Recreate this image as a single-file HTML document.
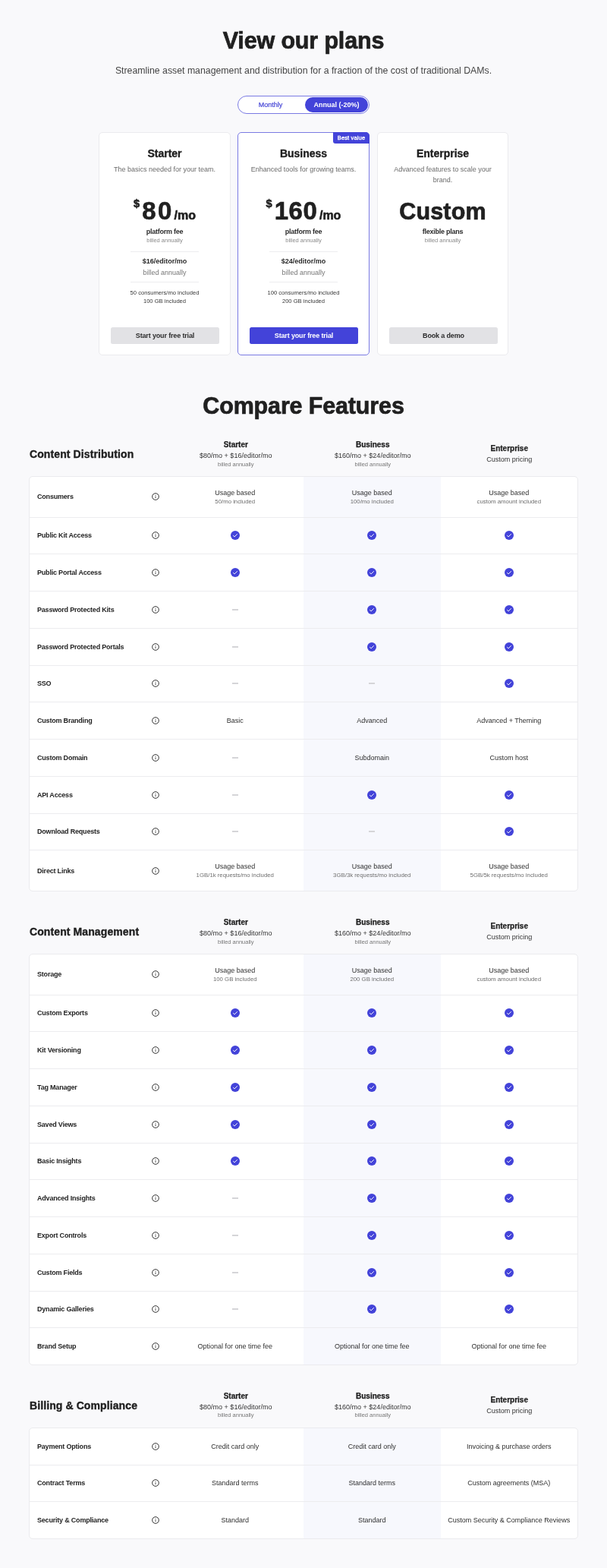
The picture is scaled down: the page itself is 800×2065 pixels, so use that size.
<!DOCTYPE html><html><head><meta charset="utf-8"><title>View our plans</title><style>

*{box-sizing:border-box;margin:0;padding:0}
html,body{width:800px;height:2065px;background:#f9f9fb;overflow:hidden}
body{position:relative;font-family:"Liberation Sans",sans-serif;color:#2b2b2b;-webkit-font-smoothing:antialiased}
.abs{position:absolute}
h1{position:absolute;left:0;width:800px;text-align:center;font-size:30.5px;font-weight:700;color:#202020;line-height:1;letter-spacing:-0.15px;-webkit-text-stroke:0.7px #202020}
.sub{position:absolute;left:0;width:800px;text-align:center;font-size:12.3px;color:#454545;line-height:1}
.toggle{position:absolute;left:313px;top:126px;width:174px;height:24px;border:1px solid #7a7ae3;border-radius:12px;background:#fff}
.toggle .m{position:absolute;left:-1px;width:87px;top:0;height:22px;line-height:22px;text-align:center;font-size:9px;color:#4646d6;font-weight:400;-webkit-text-stroke:0.2px #4646d6}
.toggle .a{position:absolute;left:88px;top:1px;width:83px;height:20px;border-radius:10px;background:#4343d9;color:#fff;font-size:9px;font-weight:700;line-height:20px;text-align:center}
.card{position:absolute;top:174px;width:174px;height:294px;background:#fff;border:1px solid #ebebee;border-radius:5px;text-align:center}
.card.biz{border-color:#7a7ae3}
.badge{position:absolute;right:-1px;top:-1px;width:48px;height:15px;background:#4343d9;color:#fff;font-size:7.5px;font-weight:400;-webkit-text-stroke:0.3px #fff;letter-spacing:0.15px;line-height:15px;text-align:center;border-radius:0 5px 0 3px}
.card .t{position:absolute;left:0;width:100%;top:19.5px;font-size:14px;font-weight:700;color:#202020;line-height:1;-webkit-text-stroke:0.35px #202020}
.card .d{position:absolute;left:14px;right:14px;top:41.25px;font-size:9px;color:#6a6a6a;line-height:14.1px}
.price{position:absolute;left:0;width:100%;top:85.5px;height:34px;white-space:nowrap;color:#202020;font-weight:700;-webkit-text-stroke:0.6px #202020}
.price .cur{font-size:14.5px;vertical-align:top;position:relative;top:-1px;margin-right:3px}
.price .num{font-size:33px;line-height:34px}
.price .per{font-size:16px;margin-left:3px}
.pf{position:absolute;left:0;width:100%;top:125.5px;font-size:9px;font-weight:700;color:#2b2b2b;line-height:1;letter-spacing:-0.25px}
.ba{position:absolute;left:0;width:100%;top:137.5px;font-size:7.5px;color:#8a8a8a;line-height:1}
.hr{position:absolute;left:41px;width:90px;height:1px;background:#ececef}
.ed{position:absolute;left:0;width:100%;top:165px;font-size:9px;font-weight:700;color:#2b2b2b;line-height:1}
.eb{position:absolute;left:0;width:100%;top:179.5px;font-size:9px;color:#777;line-height:1}
.inc{position:absolute;left:0;width:100%;top:204.5px;font-size:7.6px;color:#363636;line-height:11.5px}
.btn{position:absolute;left:15px;width:143px;top:256px;height:22px;border-radius:2.5px;background:#e2e2e5;color:#2b2b2b;font-size:9px;font-weight:700;line-height:22px;text-align:center;letter-spacing:-0.15px}
.biz .btn{background:#4343d9;color:#fff}
.cust{position:absolute;left:0;width:100%;top:87.5px;font-size:30.5px;font-weight:700;color:#202020;line-height:1;letter-spacing:0.15px;-webkit-text-stroke:0.7px #202020}
.sec{position:absolute;left:38px;width:724px}
.sh{position:absolute;left:1px;top:-36px;font-size:14px;font-weight:700;color:#202020;letter-spacing:0.1px;line-height:1;white-space:nowrap;-webkit-text-stroke:0.35px #202020}
.ch{position:absolute;width:180.5px;text-align:center;line-height:1;white-space:nowrap}
.ch .n{font-size:10px;font-weight:700;color:#202020;-webkit-text-stroke:0.25px #202020}
.ch .p{font-size:9px;color:#333;margin-top:5px}
.ch .b{font-size:7.5px;color:#777;margin-top:2.5px}
.tbl{position:absolute;left:0;top:0;width:724px;background:#fff;border:1px solid #ebebee;border-radius:5px;overflow:hidden}
.shade{position:absolute;left:361px;width:180.5px;top:0;bottom:0;background:#f7f8fd}
.row{position:relative;height:48.75px;border-top:1px solid #ececef;display:flex;align-items:center}
.row.first{border-top:none}
.row.tall{height:53.5px}
.row.first{height:47.75px}
.row.tall.first{height:52.5px}
.fl{position:absolute;left:10px;font-size:9px;font-weight:700;color:#232323;white-space:nowrap;letter-spacing:-0.2px}
.inf{position:absolute;left:161px;top:50%;margin-top:-5px}
.c{position:absolute;width:180.5px;text-align:center;top:0;bottom:0;padding-top:1px;display:flex;flex-direction:column;justify-content:center;line-height:1;font-size:9px}
.c.ic{padding-top:0}
.c1{left:180.5px}.c2{left:361px}.c3{left:541.5px}
.ck{display:block;margin:0 auto}
.dash{display:block;margin:0 auto;width:8px;height:2px;background:#d5d5d8}
.ub{font-size:9px;color:#303030}
.us{font-size:7.8px;color:#6e6e6e;margin-top:3.2px}
.tx{display:block;font-size:9px;color:#2e2e2e}

</style></head><body>
<h1 style="top:37.7px">View our plans</h1>
<div class="sub" style="top:86.5px">Streamline asset management and distribution for a fraction of the cost of traditional DAMs.</div>
<div class="toggle"><div class="m">Monthly</div><div class="a">Annual (-20%)</div></div>
<div class="card" style="left:130px">
<div class="t">Starter</div>
<div class="d">The basics needed for your team.</div>
<div class="price"><span class="cur">$</span><span class="num"><span style="letter-spacing:2.6px">8</span>0</span><span class="per">/mo</span></div>
<div class="pf">platform fee</div><div class="ba">billed annually</div>
<div class="hr" style="top:156.25px"></div>
<div class="ed">$16/editor/mo</div><div class="eb">billed annually</div>
<div class="hr" style="top:195.5px"></div>
<div class="inc">50 consumers/mo included<br>100 GB included</div>
<div class="btn">Start your free trial</div>
</div>
<div class="card biz" style="left:313px">
<div class="badge">Best value</div>
<div class="t">Business</div>
<div class="d">Enhanced tools for growing teams.</div>
<div class="price"><span class="cur">$</span><span class="num" style="letter-spacing:0.6px;margin-right:-0.6px">160</span><span class="per">/mo</span></div>
<div class="pf">platform fee</div><div class="ba">billed annually</div>
<div class="hr" style="top:156.25px"></div>
<div class="ed">$24/editor/mo</div><div class="eb">billed annually</div>
<div class="hr" style="top:195.5px"></div>
<div class="inc">100 consumers/mo included<br>200 GB included</div>
<div class="btn">Start your free trial</div>
</div>
<div class="card" style="left:497px;width:173px">
<div class="t">Enterprise</div>
<div class="d">Advanced features to scale your brand.</div>
<div class="cust">Custom</div>
<div class="pf">flexible plans</div><div class="ba">billed annually</div>
<div class="btn">Book a demo</div>
</div>
<h1 style="top:519px">Compare Features</h1>
<div class="sec" style="top:627px">
<div class="sh">Content Distribution</div>
<div class="ch" style="left:182.5px;top:-46px"><div class="n">Starter</div><div class="p">$80/mo + $16/editor/mo</div><div class="b">billed annually</div></div>
<div class="ch" style="left:363.0px;top:-46px"><div class="n">Business</div><div class="p">$160/mo + $24/editor/mo</div><div class="b">billed annually</div></div>
<div class="ch" style="left:543px;top:-41px"><div class="n">Enterprise</div><div class="p">Custom pricing</div></div>
<div class="tbl"><div class="shade"></div>
<div class="row tall first"><span class="fl">Consumers</span><svg class="inf" width="10" height="10" viewBox="0 0 10 10"><circle cx="5" cy="5" r="4.3" fill="none" stroke="#333" stroke-width="1"/><rect x="4.55" y="4.6" width="0.9" height="2.4" fill="#3a3a3a"/><rect x="4.55" y="2.9" width="0.9" height="0.9" fill="#3a3a3a"/></svg>
<div class="c c1"><div class="ub">Usage based</div><div class="us">50/mo included</div></div>
<div class="c c2"><div class="ub">Usage based</div><div class="us">100/mo included</div></div>
<div class="c c3"><div class="ub">Usage based</div><div class="us">custom amount included</div></div>
</div>
<div class="row"><span class="fl">Public Kit Access</span><svg class="inf" width="10" height="10" viewBox="0 0 10 10"><circle cx="5" cy="5" r="4.3" fill="none" stroke="#333" stroke-width="1"/><rect x="4.55" y="4.6" width="0.9" height="2.4" fill="#3a3a3a"/><rect x="4.55" y="2.9" width="0.9" height="0.9" fill="#3a3a3a"/></svg>
<div class="c c1 ic"><svg class="ck" width="12" height="12" viewBox="0 0 12 12"><circle cx="6" cy="6" r="6" fill="#4343d9"/><path d="M3.5 6.4 L5.1 7.9 L8.5 4.5" fill="none" stroke="#fff" stroke-width="0.95" stroke-linecap="round" stroke-linejoin="round"/></svg></div>
<div class="c c2 ic"><svg class="ck" width="12" height="12" viewBox="0 0 12 12"><circle cx="6" cy="6" r="6" fill="#4343d9"/><path d="M3.5 6.4 L5.1 7.9 L8.5 4.5" fill="none" stroke="#fff" stroke-width="0.95" stroke-linecap="round" stroke-linejoin="round"/></svg></div>
<div class="c c3 ic"><svg class="ck" width="12" height="12" viewBox="0 0 12 12"><circle cx="6" cy="6" r="6" fill="#4343d9"/><path d="M3.5 6.4 L5.1 7.9 L8.5 4.5" fill="none" stroke="#fff" stroke-width="0.95" stroke-linecap="round" stroke-linejoin="round"/></svg></div>
</div>
<div class="row"><span class="fl">Public Portal Access</span><svg class="inf" width="10" height="10" viewBox="0 0 10 10"><circle cx="5" cy="5" r="4.3" fill="none" stroke="#333" stroke-width="1"/><rect x="4.55" y="4.6" width="0.9" height="2.4" fill="#3a3a3a"/><rect x="4.55" y="2.9" width="0.9" height="0.9" fill="#3a3a3a"/></svg>
<div class="c c1 ic"><svg class="ck" width="12" height="12" viewBox="0 0 12 12"><circle cx="6" cy="6" r="6" fill="#4343d9"/><path d="M3.5 6.4 L5.1 7.9 L8.5 4.5" fill="none" stroke="#fff" stroke-width="0.95" stroke-linecap="round" stroke-linejoin="round"/></svg></div>
<div class="c c2 ic"><svg class="ck" width="12" height="12" viewBox="0 0 12 12"><circle cx="6" cy="6" r="6" fill="#4343d9"/><path d="M3.5 6.4 L5.1 7.9 L8.5 4.5" fill="none" stroke="#fff" stroke-width="0.95" stroke-linecap="round" stroke-linejoin="round"/></svg></div>
<div class="c c3 ic"><svg class="ck" width="12" height="12" viewBox="0 0 12 12"><circle cx="6" cy="6" r="6" fill="#4343d9"/><path d="M3.5 6.4 L5.1 7.9 L8.5 4.5" fill="none" stroke="#fff" stroke-width="0.95" stroke-linecap="round" stroke-linejoin="round"/></svg></div>
</div>
<div class="row"><span class="fl">Password Protected Kits</span><svg class="inf" width="10" height="10" viewBox="0 0 10 10"><circle cx="5" cy="5" r="4.3" fill="none" stroke="#333" stroke-width="1"/><rect x="4.55" y="4.6" width="0.9" height="2.4" fill="#3a3a3a"/><rect x="4.55" y="2.9" width="0.9" height="0.9" fill="#3a3a3a"/></svg>
<div class="c c1 ic"><span class="dash"></span></div>
<div class="c c2 ic"><svg class="ck" width="12" height="12" viewBox="0 0 12 12"><circle cx="6" cy="6" r="6" fill="#4343d9"/><path d="M3.5 6.4 L5.1 7.9 L8.5 4.5" fill="none" stroke="#fff" stroke-width="0.95" stroke-linecap="round" stroke-linejoin="round"/></svg></div>
<div class="c c3 ic"><svg class="ck" width="12" height="12" viewBox="0 0 12 12"><circle cx="6" cy="6" r="6" fill="#4343d9"/><path d="M3.5 6.4 L5.1 7.9 L8.5 4.5" fill="none" stroke="#fff" stroke-width="0.95" stroke-linecap="round" stroke-linejoin="round"/></svg></div>
</div>
<div class="row"><span class="fl">Password Protected Portals</span><svg class="inf" width="10" height="10" viewBox="0 0 10 10"><circle cx="5" cy="5" r="4.3" fill="none" stroke="#333" stroke-width="1"/><rect x="4.55" y="4.6" width="0.9" height="2.4" fill="#3a3a3a"/><rect x="4.55" y="2.9" width="0.9" height="0.9" fill="#3a3a3a"/></svg>
<div class="c c1 ic"><span class="dash"></span></div>
<div class="c c2 ic"><svg class="ck" width="12" height="12" viewBox="0 0 12 12"><circle cx="6" cy="6" r="6" fill="#4343d9"/><path d="M3.5 6.4 L5.1 7.9 L8.5 4.5" fill="none" stroke="#fff" stroke-width="0.95" stroke-linecap="round" stroke-linejoin="round"/></svg></div>
<div class="c c3 ic"><svg class="ck" width="12" height="12" viewBox="0 0 12 12"><circle cx="6" cy="6" r="6" fill="#4343d9"/><path d="M3.5 6.4 L5.1 7.9 L8.5 4.5" fill="none" stroke="#fff" stroke-width="0.95" stroke-linecap="round" stroke-linejoin="round"/></svg></div>
</div>
<div class="row"><span class="fl">SSO</span><svg class="inf" width="10" height="10" viewBox="0 0 10 10"><circle cx="5" cy="5" r="4.3" fill="none" stroke="#333" stroke-width="1"/><rect x="4.55" y="4.6" width="0.9" height="2.4" fill="#3a3a3a"/><rect x="4.55" y="2.9" width="0.9" height="0.9" fill="#3a3a3a"/></svg>
<div class="c c1 ic"><span class="dash"></span></div>
<div class="c c2 ic"><span class="dash"></span></div>
<div class="c c3 ic"><svg class="ck" width="12" height="12" viewBox="0 0 12 12"><circle cx="6" cy="6" r="6" fill="#4343d9"/><path d="M3.5 6.4 L5.1 7.9 L8.5 4.5" fill="none" stroke="#fff" stroke-width="0.95" stroke-linecap="round" stroke-linejoin="round"/></svg></div>
</div>
<div class="row"><span class="fl">Custom Branding</span><svg class="inf" width="10" height="10" viewBox="0 0 10 10"><circle cx="5" cy="5" r="4.3" fill="none" stroke="#333" stroke-width="1"/><rect x="4.55" y="4.6" width="0.9" height="2.4" fill="#3a3a3a"/><rect x="4.55" y="2.9" width="0.9" height="0.9" fill="#3a3a3a"/></svg>
<div class="c c1"><span class="tx">Basic</span></div>
<div class="c c2"><span class="tx">Advanced</span></div>
<div class="c c3"><span class="tx">Advanced + Theming</span></div>
</div>
<div class="row"><span class="fl">Custom Domain</span><svg class="inf" width="10" height="10" viewBox="0 0 10 10"><circle cx="5" cy="5" r="4.3" fill="none" stroke="#333" stroke-width="1"/><rect x="4.55" y="4.6" width="0.9" height="2.4" fill="#3a3a3a"/><rect x="4.55" y="2.9" width="0.9" height="0.9" fill="#3a3a3a"/></svg>
<div class="c c1 ic"><span class="dash"></span></div>
<div class="c c2"><span class="tx">Subdomain</span></div>
<div class="c c3"><span class="tx">Custom host</span></div>
</div>
<div class="row"><span class="fl">API Access</span><svg class="inf" width="10" height="10" viewBox="0 0 10 10"><circle cx="5" cy="5" r="4.3" fill="none" stroke="#333" stroke-width="1"/><rect x="4.55" y="4.6" width="0.9" height="2.4" fill="#3a3a3a"/><rect x="4.55" y="2.9" width="0.9" height="0.9" fill="#3a3a3a"/></svg>
<div class="c c1 ic"><span class="dash"></span></div>
<div class="c c2 ic"><svg class="ck" width="12" height="12" viewBox="0 0 12 12"><circle cx="6" cy="6" r="6" fill="#4343d9"/><path d="M3.5 6.4 L5.1 7.9 L8.5 4.5" fill="none" stroke="#fff" stroke-width="0.95" stroke-linecap="round" stroke-linejoin="round"/></svg></div>
<div class="c c3 ic"><svg class="ck" width="12" height="12" viewBox="0 0 12 12"><circle cx="6" cy="6" r="6" fill="#4343d9"/><path d="M3.5 6.4 L5.1 7.9 L8.5 4.5" fill="none" stroke="#fff" stroke-width="0.95" stroke-linecap="round" stroke-linejoin="round"/></svg></div>
</div>
<div class="row"><span class="fl">Download Requests</span><svg class="inf" width="10" height="10" viewBox="0 0 10 10"><circle cx="5" cy="5" r="4.3" fill="none" stroke="#333" stroke-width="1"/><rect x="4.55" y="4.6" width="0.9" height="2.4" fill="#3a3a3a"/><rect x="4.55" y="2.9" width="0.9" height="0.9" fill="#3a3a3a"/></svg>
<div class="c c1 ic"><span class="dash"></span></div>
<div class="c c2 ic"><span class="dash"></span></div>
<div class="c c3 ic"><svg class="ck" width="12" height="12" viewBox="0 0 12 12"><circle cx="6" cy="6" r="6" fill="#4343d9"/><path d="M3.5 6.4 L5.1 7.9 L8.5 4.5" fill="none" stroke="#fff" stroke-width="0.95" stroke-linecap="round" stroke-linejoin="round"/></svg></div>
</div>
<div class="row tall"><span class="fl">Direct Links</span><svg class="inf" width="10" height="10" viewBox="0 0 10 10"><circle cx="5" cy="5" r="4.3" fill="none" stroke="#333" stroke-width="1"/><rect x="4.55" y="4.6" width="0.9" height="2.4" fill="#3a3a3a"/><rect x="4.55" y="2.9" width="0.9" height="0.9" fill="#3a3a3a"/></svg>
<div class="c c1"><div class="ub">Usage based</div><div class="us">1GB/1k requests/mo included</div></div>
<div class="c c2"><div class="ub">Usage based</div><div class="us">3GB/3k requests/mo included</div></div>
<div class="c c3"><div class="ub">Usage based</div><div class="us">5GB/5k requests/mo included</div></div>
</div>
</div></div>
<div class="sec" style="top:1256px">
<div class="sh">Content Management</div>
<div class="ch" style="left:182.5px;top:-46px"><div class="n">Starter</div><div class="p">$80/mo + $16/editor/mo</div><div class="b">billed annually</div></div>
<div class="ch" style="left:363.0px;top:-46px"><div class="n">Business</div><div class="p">$160/mo + $24/editor/mo</div><div class="b">billed annually</div></div>
<div class="ch" style="left:543px;top:-41px"><div class="n">Enterprise</div><div class="p">Custom pricing</div></div>
<div class="tbl"><div class="shade"></div>
<div class="row tall first"><span class="fl">Storage</span><svg class="inf" width="10" height="10" viewBox="0 0 10 10"><circle cx="5" cy="5" r="4.3" fill="none" stroke="#333" stroke-width="1"/><rect x="4.55" y="4.6" width="0.9" height="2.4" fill="#3a3a3a"/><rect x="4.55" y="2.9" width="0.9" height="0.9" fill="#3a3a3a"/></svg>
<div class="c c1"><div class="ub">Usage based</div><div class="us">100 GB included</div></div>
<div class="c c2"><div class="ub">Usage based</div><div class="us">200 GB included</div></div>
<div class="c c3"><div class="ub">Usage based</div><div class="us">custom amount included</div></div>
</div>
<div class="row"><span class="fl">Custom Exports</span><svg class="inf" width="10" height="10" viewBox="0 0 10 10"><circle cx="5" cy="5" r="4.3" fill="none" stroke="#333" stroke-width="1"/><rect x="4.55" y="4.6" width="0.9" height="2.4" fill="#3a3a3a"/><rect x="4.55" y="2.9" width="0.9" height="0.9" fill="#3a3a3a"/></svg>
<div class="c c1 ic"><svg class="ck" width="12" height="12" viewBox="0 0 12 12"><circle cx="6" cy="6" r="6" fill="#4343d9"/><path d="M3.5 6.4 L5.1 7.9 L8.5 4.5" fill="none" stroke="#fff" stroke-width="0.95" stroke-linecap="round" stroke-linejoin="round"/></svg></div>
<div class="c c2 ic"><svg class="ck" width="12" height="12" viewBox="0 0 12 12"><circle cx="6" cy="6" r="6" fill="#4343d9"/><path d="M3.5 6.4 L5.1 7.9 L8.5 4.5" fill="none" stroke="#fff" stroke-width="0.95" stroke-linecap="round" stroke-linejoin="round"/></svg></div>
<div class="c c3 ic"><svg class="ck" width="12" height="12" viewBox="0 0 12 12"><circle cx="6" cy="6" r="6" fill="#4343d9"/><path d="M3.5 6.4 L5.1 7.9 L8.5 4.5" fill="none" stroke="#fff" stroke-width="0.95" stroke-linecap="round" stroke-linejoin="round"/></svg></div>
</div>
<div class="row"><span class="fl">Kit Versioning</span><svg class="inf" width="10" height="10" viewBox="0 0 10 10"><circle cx="5" cy="5" r="4.3" fill="none" stroke="#333" stroke-width="1"/><rect x="4.55" y="4.6" width="0.9" height="2.4" fill="#3a3a3a"/><rect x="4.55" y="2.9" width="0.9" height="0.9" fill="#3a3a3a"/></svg>
<div class="c c1 ic"><svg class="ck" width="12" height="12" viewBox="0 0 12 12"><circle cx="6" cy="6" r="6" fill="#4343d9"/><path d="M3.5 6.4 L5.1 7.9 L8.5 4.5" fill="none" stroke="#fff" stroke-width="0.95" stroke-linecap="round" stroke-linejoin="round"/></svg></div>
<div class="c c2 ic"><svg class="ck" width="12" height="12" viewBox="0 0 12 12"><circle cx="6" cy="6" r="6" fill="#4343d9"/><path d="M3.5 6.4 L5.1 7.9 L8.5 4.5" fill="none" stroke="#fff" stroke-width="0.95" stroke-linecap="round" stroke-linejoin="round"/></svg></div>
<div class="c c3 ic"><svg class="ck" width="12" height="12" viewBox="0 0 12 12"><circle cx="6" cy="6" r="6" fill="#4343d9"/><path d="M3.5 6.4 L5.1 7.9 L8.5 4.5" fill="none" stroke="#fff" stroke-width="0.95" stroke-linecap="round" stroke-linejoin="round"/></svg></div>
</div>
<div class="row"><span class="fl">Tag Manager</span><svg class="inf" width="10" height="10" viewBox="0 0 10 10"><circle cx="5" cy="5" r="4.3" fill="none" stroke="#333" stroke-width="1"/><rect x="4.55" y="4.6" width="0.9" height="2.4" fill="#3a3a3a"/><rect x="4.55" y="2.9" width="0.9" height="0.9" fill="#3a3a3a"/></svg>
<div class="c c1 ic"><svg class="ck" width="12" height="12" viewBox="0 0 12 12"><circle cx="6" cy="6" r="6" fill="#4343d9"/><path d="M3.5 6.4 L5.1 7.9 L8.5 4.5" fill="none" stroke="#fff" stroke-width="0.95" stroke-linecap="round" stroke-linejoin="round"/></svg></div>
<div class="c c2 ic"><svg class="ck" width="12" height="12" viewBox="0 0 12 12"><circle cx="6" cy="6" r="6" fill="#4343d9"/><path d="M3.5 6.4 L5.1 7.9 L8.5 4.5" fill="none" stroke="#fff" stroke-width="0.95" stroke-linecap="round" stroke-linejoin="round"/></svg></div>
<div class="c c3 ic"><svg class="ck" width="12" height="12" viewBox="0 0 12 12"><circle cx="6" cy="6" r="6" fill="#4343d9"/><path d="M3.5 6.4 L5.1 7.9 L8.5 4.5" fill="none" stroke="#fff" stroke-width="0.95" stroke-linecap="round" stroke-linejoin="round"/></svg></div>
</div>
<div class="row"><span class="fl">Saved Views</span><svg class="inf" width="10" height="10" viewBox="0 0 10 10"><circle cx="5" cy="5" r="4.3" fill="none" stroke="#333" stroke-width="1"/><rect x="4.55" y="4.6" width="0.9" height="2.4" fill="#3a3a3a"/><rect x="4.55" y="2.9" width="0.9" height="0.9" fill="#3a3a3a"/></svg>
<div class="c c1 ic"><svg class="ck" width="12" height="12" viewBox="0 0 12 12"><circle cx="6" cy="6" r="6" fill="#4343d9"/><path d="M3.5 6.4 L5.1 7.9 L8.5 4.5" fill="none" stroke="#fff" stroke-width="0.95" stroke-linecap="round" stroke-linejoin="round"/></svg></div>
<div class="c c2 ic"><svg class="ck" width="12" height="12" viewBox="0 0 12 12"><circle cx="6" cy="6" r="6" fill="#4343d9"/><path d="M3.5 6.4 L5.1 7.9 L8.5 4.5" fill="none" stroke="#fff" stroke-width="0.95" stroke-linecap="round" stroke-linejoin="round"/></svg></div>
<div class="c c3 ic"><svg class="ck" width="12" height="12" viewBox="0 0 12 12"><circle cx="6" cy="6" r="6" fill="#4343d9"/><path d="M3.5 6.4 L5.1 7.9 L8.5 4.5" fill="none" stroke="#fff" stroke-width="0.95" stroke-linecap="round" stroke-linejoin="round"/></svg></div>
</div>
<div class="row"><span class="fl">Basic Insights</span><svg class="inf" width="10" height="10" viewBox="0 0 10 10"><circle cx="5" cy="5" r="4.3" fill="none" stroke="#333" stroke-width="1"/><rect x="4.55" y="4.6" width="0.9" height="2.4" fill="#3a3a3a"/><rect x="4.55" y="2.9" width="0.9" height="0.9" fill="#3a3a3a"/></svg>
<div class="c c1 ic"><svg class="ck" width="12" height="12" viewBox="0 0 12 12"><circle cx="6" cy="6" r="6" fill="#4343d9"/><path d="M3.5 6.4 L5.1 7.9 L8.5 4.5" fill="none" stroke="#fff" stroke-width="0.95" stroke-linecap="round" stroke-linejoin="round"/></svg></div>
<div class="c c2 ic"><svg class="ck" width="12" height="12" viewBox="0 0 12 12"><circle cx="6" cy="6" r="6" fill="#4343d9"/><path d="M3.5 6.4 L5.1 7.9 L8.5 4.5" fill="none" stroke="#fff" stroke-width="0.95" stroke-linecap="round" stroke-linejoin="round"/></svg></div>
<div class="c c3 ic"><svg class="ck" width="12" height="12" viewBox="0 0 12 12"><circle cx="6" cy="6" r="6" fill="#4343d9"/><path d="M3.5 6.4 L5.1 7.9 L8.5 4.5" fill="none" stroke="#fff" stroke-width="0.95" stroke-linecap="round" stroke-linejoin="round"/></svg></div>
</div>
<div class="row"><span class="fl">Advanced Insights</span><svg class="inf" width="10" height="10" viewBox="0 0 10 10"><circle cx="5" cy="5" r="4.3" fill="none" stroke="#333" stroke-width="1"/><rect x="4.55" y="4.6" width="0.9" height="2.4" fill="#3a3a3a"/><rect x="4.55" y="2.9" width="0.9" height="0.9" fill="#3a3a3a"/></svg>
<div class="c c1 ic"><span class="dash"></span></div>
<div class="c c2 ic"><svg class="ck" width="12" height="12" viewBox="0 0 12 12"><circle cx="6" cy="6" r="6" fill="#4343d9"/><path d="M3.5 6.4 L5.1 7.9 L8.5 4.5" fill="none" stroke="#fff" stroke-width="0.95" stroke-linecap="round" stroke-linejoin="round"/></svg></div>
<div class="c c3 ic"><svg class="ck" width="12" height="12" viewBox="0 0 12 12"><circle cx="6" cy="6" r="6" fill="#4343d9"/><path d="M3.5 6.4 L5.1 7.9 L8.5 4.5" fill="none" stroke="#fff" stroke-width="0.95" stroke-linecap="round" stroke-linejoin="round"/></svg></div>
</div>
<div class="row"><span class="fl">Export Controls</span><svg class="inf" width="10" height="10" viewBox="0 0 10 10"><circle cx="5" cy="5" r="4.3" fill="none" stroke="#333" stroke-width="1"/><rect x="4.55" y="4.6" width="0.9" height="2.4" fill="#3a3a3a"/><rect x="4.55" y="2.9" width="0.9" height="0.9" fill="#3a3a3a"/></svg>
<div class="c c1 ic"><span class="dash"></span></div>
<div class="c c2 ic"><svg class="ck" width="12" height="12" viewBox="0 0 12 12"><circle cx="6" cy="6" r="6" fill="#4343d9"/><path d="M3.5 6.4 L5.1 7.9 L8.5 4.5" fill="none" stroke="#fff" stroke-width="0.95" stroke-linecap="round" stroke-linejoin="round"/></svg></div>
<div class="c c3 ic"><svg class="ck" width="12" height="12" viewBox="0 0 12 12"><circle cx="6" cy="6" r="6" fill="#4343d9"/><path d="M3.5 6.4 L5.1 7.9 L8.5 4.5" fill="none" stroke="#fff" stroke-width="0.95" stroke-linecap="round" stroke-linejoin="round"/></svg></div>
</div>
<div class="row"><span class="fl">Custom Fields</span><svg class="inf" width="10" height="10" viewBox="0 0 10 10"><circle cx="5" cy="5" r="4.3" fill="none" stroke="#333" stroke-width="1"/><rect x="4.55" y="4.6" width="0.9" height="2.4" fill="#3a3a3a"/><rect x="4.55" y="2.9" width="0.9" height="0.9" fill="#3a3a3a"/></svg>
<div class="c c1 ic"><span class="dash"></span></div>
<div class="c c2 ic"><svg class="ck" width="12" height="12" viewBox="0 0 12 12"><circle cx="6" cy="6" r="6" fill="#4343d9"/><path d="M3.5 6.4 L5.1 7.9 L8.5 4.5" fill="none" stroke="#fff" stroke-width="0.95" stroke-linecap="round" stroke-linejoin="round"/></svg></div>
<div class="c c3 ic"><svg class="ck" width="12" height="12" viewBox="0 0 12 12"><circle cx="6" cy="6" r="6" fill="#4343d9"/><path d="M3.5 6.4 L5.1 7.9 L8.5 4.5" fill="none" stroke="#fff" stroke-width="0.95" stroke-linecap="round" stroke-linejoin="round"/></svg></div>
</div>
<div class="row"><span class="fl">Dynamic Galleries</span><svg class="inf" width="10" height="10" viewBox="0 0 10 10"><circle cx="5" cy="5" r="4.3" fill="none" stroke="#333" stroke-width="1"/><rect x="4.55" y="4.6" width="0.9" height="2.4" fill="#3a3a3a"/><rect x="4.55" y="2.9" width="0.9" height="0.9" fill="#3a3a3a"/></svg>
<div class="c c1 ic"><span class="dash"></span></div>
<div class="c c2 ic"><svg class="ck" width="12" height="12" viewBox="0 0 12 12"><circle cx="6" cy="6" r="6" fill="#4343d9"/><path d="M3.5 6.4 L5.1 7.9 L8.5 4.5" fill="none" stroke="#fff" stroke-width="0.95" stroke-linecap="round" stroke-linejoin="round"/></svg></div>
<div class="c c3 ic"><svg class="ck" width="12" height="12" viewBox="0 0 12 12"><circle cx="6" cy="6" r="6" fill="#4343d9"/><path d="M3.5 6.4 L5.1 7.9 L8.5 4.5" fill="none" stroke="#fff" stroke-width="0.95" stroke-linecap="round" stroke-linejoin="round"/></svg></div>
</div>
<div class="row"><span class="fl">Brand Setup</span><svg class="inf" width="10" height="10" viewBox="0 0 10 10"><circle cx="5" cy="5" r="4.3" fill="none" stroke="#333" stroke-width="1"/><rect x="4.55" y="4.6" width="0.9" height="2.4" fill="#3a3a3a"/><rect x="4.55" y="2.9" width="0.9" height="0.9" fill="#3a3a3a"/></svg>
<div class="c c1"><span class="tx">Optional for one time fee</span></div>
<div class="c c2"><span class="tx">Optional for one time fee</span></div>
<div class="c c3"><span class="tx">Optional for one time fee</span></div>
</div>
</div></div>
<div class="sec" style="top:1879.75px">
<div class="sh">Billing &amp; Compliance</div>
<div class="ch" style="left:182.5px;top:-46px"><div class="n">Starter</div><div class="p">$80/mo + $16/editor/mo</div><div class="b">billed annually</div></div>
<div class="ch" style="left:363.0px;top:-46px"><div class="n">Business</div><div class="p">$160/mo + $24/editor/mo</div><div class="b">billed annually</div></div>
<div class="ch" style="left:543px;top:-41px"><div class="n">Enterprise</div><div class="p">Custom pricing</div></div>
<div class="tbl"><div class="shade"></div>
<div class="row first"><span class="fl">Payment Options</span><svg class="inf" width="10" height="10" viewBox="0 0 10 10"><circle cx="5" cy="5" r="4.3" fill="none" stroke="#333" stroke-width="1"/><rect x="4.55" y="4.6" width="0.9" height="2.4" fill="#3a3a3a"/><rect x="4.55" y="2.9" width="0.9" height="0.9" fill="#3a3a3a"/></svg>
<div class="c c1"><span class="tx">Credit card only</span></div>
<div class="c c2"><span class="tx">Credit card only</span></div>
<div class="c c3"><span class="tx">Invoicing &amp; purchase orders</span></div>
</div>
<div class="row"><span class="fl">Contract Terms</span><svg class="inf" width="10" height="10" viewBox="0 0 10 10"><circle cx="5" cy="5" r="4.3" fill="none" stroke="#333" stroke-width="1"/><rect x="4.55" y="4.6" width="0.9" height="2.4" fill="#3a3a3a"/><rect x="4.55" y="2.9" width="0.9" height="0.9" fill="#3a3a3a"/></svg>
<div class="c c1"><span class="tx">Standard terms</span></div>
<div class="c c2"><span class="tx">Standard terms</span></div>
<div class="c c3"><span class="tx">Custom agreements (MSA)</span></div>
</div>
<div class="row"><span class="fl">Security &amp; Compliance</span><svg class="inf" width="10" height="10" viewBox="0 0 10 10"><circle cx="5" cy="5" r="4.3" fill="none" stroke="#333" stroke-width="1"/><rect x="4.55" y="4.6" width="0.9" height="2.4" fill="#3a3a3a"/><rect x="4.55" y="2.9" width="0.9" height="0.9" fill="#3a3a3a"/></svg>
<div class="c c1"><span class="tx">Standard</span></div>
<div class="c c2"><span class="tx">Standard</span></div>
<div class="c c3"><span class="tx">Custom Security &amp; Compliance Reviews</span></div>
</div>
</div></div>
</body></html>
